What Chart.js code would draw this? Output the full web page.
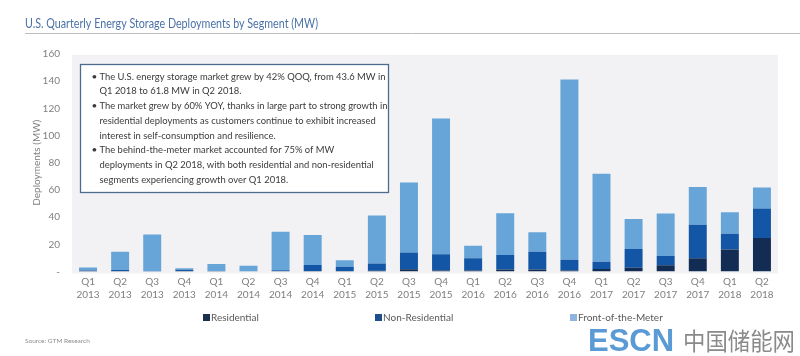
<!DOCTYPE html>
<html><head><meta charset="utf-8">
<script src="https://cdn.jsdelivr.net/npm/chart.js@4.4.0/dist/chart.umd.min.js"></script>
<style>html,body{margin:0;padding:0;background:#fff;}#wrap{position:relative;width:800px;height:356px;}</style>
</head><body><div id="wrap"><canvas id="c" width="800" height="356"></canvas></div>
<script>
const categories = [['Q1','2013'],['Q2','2013'],['Q3','2013'],['Q4','2013'],['Q1','2014'],['Q2','2014'],['Q3','2014'],['Q4','2014'],['Q1','2015'],['Q2','2015'],['Q3','2015'],['Q4','2015'],['Q1','2016'],['Q2','2016'],['Q3','2016'],['Q4','2016'],['Q1','2017'],['Q2','2017'],['Q3','2017'],['Q4','2017'],['Q1','2018'],['Q2','2018']];
const residential    = [0.3,0.3,0,0.3,0.1,0,0.2,0.3,0.3,0.5,1.6,0.8,0.8,1.5,1.5,0.8,1.8,2.8,4.6,9.7,16.1,24.7];
const nonResidential = [0.5,0.8,0.3,0.9,0.2,0.2,0.8,4.5,3.2,5.3,12.3,11.9,8.9,10.7,13.1,7.9,5.4,13.8,6.8,24.6,11.6,21.6];
const frontOfMeter   = [2.2,13.5,27,1.2,5.2,4.1,28.3,22.1,4.7,35.4,51.6,99.8,9.3,30.7,14.3,132.5,64.7,22.1,31.2,27.8,15.9,15.5];
const seriesNames = ['Residential','Non-Residential','Front-of-the-Meter'];
const yMax = 160, yStep = 20;
const titleText = 'U.S. Quarterly Energy Storage Deployments by Segment (MW)';
const yTitle = 'Deployments (MW)';
const noteLines = [
  [true,'The U.S. energy storage market grew by 42% QOQ, from 43.6 MW in'],
  [false,'Q1 2018 to 61.8 MW in Q2 2018.'],
  [true,'The market grew by 60% YOY, thanks in large part to strong growth in'],
  [false,'residential deployments as customers continue to exhibit increased'],
  [false,'interest in self-consumption and resilience.'],
  [true,'The behind-the-meter market accounted for 75% of MW'],
  [false,'deployments in Q2 2018, with both residential and non-residential'],
  [false,'segments experiencing growth over Q1 2018.']
];
const sourceText = 'Source: GTM Research';

const FONT = 'Lato, "Open Sans", sans-serif';
const colors = ['#132c54','#1256a5','#67a4d8'];
const legendColors = ['#1b2f4f','#1f4f8f','#8fb5de'];

const bgPlugin = {
  id:'bg',
  beforeDraw(chart){
    const {ctx, chartArea:a} = chart;
    ctx.save();
    ctx.fillStyle = '#f2f2f4';
    ctx.fillRect(a.left, a.top + 1, a.right - a.left, a.bottom - a.top + 1);
    ctx.restore();
  }
};

function fitText(ctx, text, x, y, target){
  const w = ctx.measureText(text).width;
  if (target && w > target) ctx.fillText(text, x, y, target); else ctx.fillText(text, x, y);
}

const decoPlugin = {
  id:'deco',
  afterDatasetsDraw(chart){
    const ctx = chart.ctx;
    ctx.save();
    // note box
    ctx.fillStyle = '#ffffff';
    ctx.fillRect(80.5, 64.5, 308, 128);
    ctx.strokeStyle = '#4d6a90';
    ctx.lineWidth = 1.3;
    ctx.strokeRect(80.5, 64.5, 308, 128);
    ctx.font = '10px ' + FONT;
    ctx.fillStyle = '#3a3a3a';
    ctx.textBaseline = 'middle';
    const w1 = ctx.measureText(noteLines[0][1]).width;
    const k = Math.min(1, 286 / w1);
    noteLines.forEach((ln, i) => {
      const y = 76.5 + i * 14.7;
      if (ln[0]) { ctx.fillText('\u2022', 91.5, y); }
      const w = ctx.measureText(ln[1]).width;
      ctx.fillText(ln[1], 99.5, y, w * k);
    });
    ctx.restore();
  },
  afterDraw(chart){
    const ctx = chart.ctx;
    ctx.save();
    // title
    ctx.font = '12.5px ' + FONT;
    ctx.fillStyle = '#4b72a8';
    ctx.textBaseline = 'alphabetic';
    fitText(ctx, titleText, 25, 28, 293);
    ctx.strokeStyle = '#bdbdbd';
    ctx.lineWidth = 1;
    ctx.beginPath(); ctx.moveTo(25, 33.5); ctx.lineTo(800, 33.5); ctx.stroke();
    // legend
    const lx = [203, 375, 570];
    ctx.font = '10px ' + FONT;
    ctx.textBaseline = 'middle';
    chart.data.datasets.forEach((ds, i) => {
      ctx.fillStyle = legendColors[i];
      ctx.fillRect(lx[i], 314, 7, 7);
      ctx.fillStyle = '#595959';
      ctx.fillText(ds.label, lx[i] + 8, 317.5);
    });
    // source
    ctx.font = '6.5px ' + FONT;
    ctx.fillStyle = '#8c8c8c';
    ctx.fillText(sourceText, 25, 341);
    // watermark
    ctx.font = 'bold 31px "Liberation Sans", Arial, sans-serif';
    ctx.fillStyle = '#5b9bd5';
    ctx.textBaseline = 'alphabetic';
    fitText(ctx, 'ESCN', 588, 351, 92);
    ctx.font = '24px "Noto Sans CJK SC", sans-serif';
    ctx.fillStyle = '#8a8a8a';
    fitText(ctx, '中国储能网', 683, 350, 112);
    ctx.restore();
  }
};

new Chart(document.getElementById('c'), {
  type:'bar',
  data:{
    labels: categories,
    datasets:[
      {label:seriesNames[0], data:residential, backgroundColor:colors[0]},
      {label:seriesNames[1], data:nonResidential, backgroundColor:colors[1]},
      {label:seriesNames[2], data:frontOfMeter, backgroundColor:colors[2]}
    ]
  },
  options:{
    responsive:false,
    animation:false,
    devicePixelRatio:1,
    layout:{padding:{left:27, right:22, top:54, bottom:0}},
    datasets:{bar:{barPercentage:0.56, categoryPercentage:1}},
    plugins:{legend:{display:false}, tooltip:{enabled:false}},
    scales:{
      x:{
        stacked:true,
        grid:{display:false, drawTicks:false},
        border:{display:false},
        ticks:{padding:4, color:'#7f7f7f', font:{family:FONT, size:10, lineHeight:1.3}, maxRotation:0, autoSkip:false},
        afterFit(s){ s.height = 84.5; }
      },
      y:{
        stacked:true,
        min:0, max:yMax,
        grid:{display:false, drawTicks:false},
        border:{display:false},
        ticks:{stepSize:yStep, padding:12, color:'#7f7f7f', font:{family:FONT, size:10},
          callback:v => v === 0 ? '-' : v},
        title:{display:true, text:yTitle, color:'#7f7f7f', font:{family:FONT, size:10}, padding:{top:4, bottom:0}},
        afterFit(s){ s.width = 45; }
      }
    }
  },
  plugins:[bgPlugin, decoPlugin]
});
</script>
</body></html>
